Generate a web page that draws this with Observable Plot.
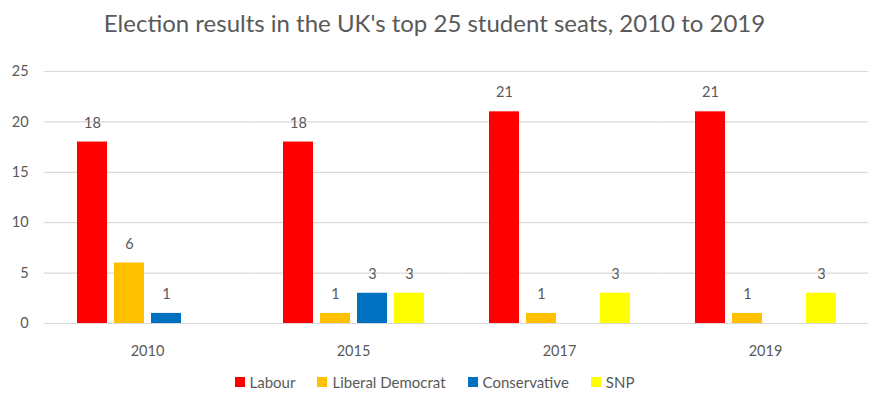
<!DOCTYPE html>
<html>
<head>
<meta charset="utf-8">
<script src="https://cdn.jsdelivr.net/npm/d3@7"></script>
<script src="https://cdn.jsdelivr.net/npm/@observablehq/plot@0.6"></script>
<style>
  body { margin: 0; background: #fff; font-family: Lato, "Open Sans", sans-serif; }
  #title { height: 50px; line-height: 46px; text-align: center; font-size: 24px; color: #595959; }
  #legend { height: 28px; padding-top: 6px; box-sizing: border-box; display: flex; justify-content: center; align-items: center; gap: 22px; font-size: 15px; color: #595959; }
  .sw { display: inline-flex; align-items: center; gap: 5px; }
  .sq { width: 10px; height: 10px; display: inline-block; }
</style>
</head>
<body>
<div id="title">Election results in the UK's top 25 student seats, 2010 to 2019</div>
<div id="chart"></div>
<div id="legend"></div>
<script>
const years = ["2010", "2015", "2017", "2019"];
const parties = ["Labour", "Liberal Democrat", "Conservative", "SNP"];
const colors = ["#ff0000", "#ffc000", "#0070c0", "#ffff00"];
const labour = [18, 18, 21, 21];
const libDem = [6, 1, 1, 1];
const conservative = [1, 3, 0, 0];
const snp = [0, 3, 3, 3];
const yTicks = [0, 5, 10, 15, 20, 25];

const series = [labour, libDem, conservative, snp];
const data = [];
years.forEach((y, i) => parties.forEach((p, j) => {
  data.push({year: y, party: p, seats: series[j][i]});
}));
const shown = data.filter(d => d.seats > 0);

// facet band geometry: inner padding 0.27, outer 0.135 over the 825px frame
const W = 869 - 44;
const step = W / (years.length - 0.27 + 2 * 0.135);
const gap = step * 0.27 / 2 + 0.05;

const chart = Plot.plot({
  width: 869,
  height: 315,
  marginLeft: 44,
  marginRight: 0,
  marginTop: 21,
  marginBottom: 42,
  style: {fontFamily: "Lato, 'Open Sans', sans-serif", fontSize: "14.5px", color: "#595959"},
  fx: {domain: years, paddingInner: 0.27, paddingOuter: 0.135, label: null},
  x: {domain: parties, paddingInner: 0.2, paddingOuter: 0.1, axis: null},
  y: {domain: [0, 25], label: null},
  color: {domain: parties, range: colors},
  marks: [
    Plot.ruleY(yTicks, {stroke: "#d9d9d9", strokeWidth: 1.2, insetLeft: -gap, insetRight: -gap}),
    Plot.axisY({ticks: yTicks, tickSize: 0, tickPadding: 16 + gap, label: null, fontSize: 14.5, fill: "#595959"}),
    Plot.axisFx({anchor: "bottom", tickSize: 0, tickPadding: 22, label: null, fontSize: 14.5, fill: "#595959"}),
    Plot.barY(shown, {fx: "year", x: "party", y: "seats", fill: "party"}),
    Plot.text(shown, {fx: "year", x: "party", y: "seats", text: d => String(d.seats), dy: -19, fill: "#595959", fontSize: 14.5})
  ]
});
document.getElementById("chart").appendChild(chart);

const legend = document.getElementById("legend");
parties.forEach((p, i) => {
  const s = document.createElement("span");
  s.className = "sw";
  s.innerHTML = `<span class="sq" style="background:${colors[i]}"></span>${p}`;
  legend.appendChild(s);
});
</script>
</body>
</html>
